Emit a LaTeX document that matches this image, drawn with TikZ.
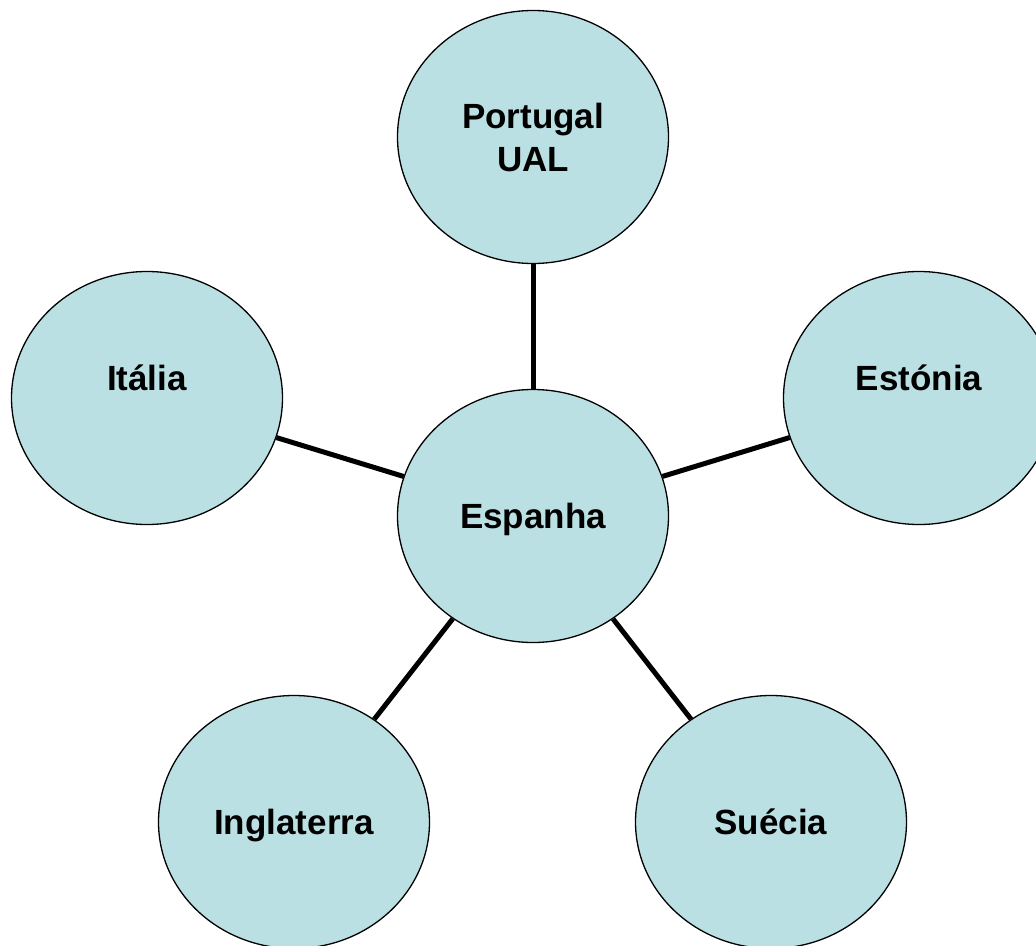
\documentclass[tikz,border=0pt]{standalone}
\usepackage{fontspec}
\setmainfont{Liberation Sans}
\usetikzlibrary{shapes.geometric}
\definecolor{bub}{RGB}{187,224,227}
\tikzset{
  bubble/.style={ellipse, draw=black, line width=1.3pt, fill=bub, minimum width=271pt, minimum height=253pt, inner sep=0pt, align=center, font=\fontsize{35}{40}\selectfont\bfseries},
  flat/.style={text height=25pt, text depth=0pt},
  raised/.style={text height=25pt, text depth=40pt},
  twoline/.style={font=\fontsize{35}{43}\selectfont\bfseries},
  link/.style={line width=5pt, black}
}
\begin{document}
\begin{tikzpicture}[x=1pt,y=-1pt]
\useasboundingbox (0,0) rectangle (1036,945);
\node[bubble,flat] (esp) at (533,516) {Espanha};
\node[bubble,twoline] (por) at (533,137) {Portugal\\UAL};
\node[bubble,raised] (ita) at (147,398) {Itália};
\node[bubble,raised] (est) at (919,398) {Estónia};
\node[bubble,flat] (ing) at (294,822) {Inglaterra};
\node[bubble,flat] (sue) at (771,822) {Suécia};
\draw[link] (esp) -- (por);
\draw[link] (esp) -- (ita);
\draw[link] (esp) -- (est);
\draw[link] (esp) -- (ing);
\draw[link] (esp) -- (sue);
\end{tikzpicture}
\end{document}
